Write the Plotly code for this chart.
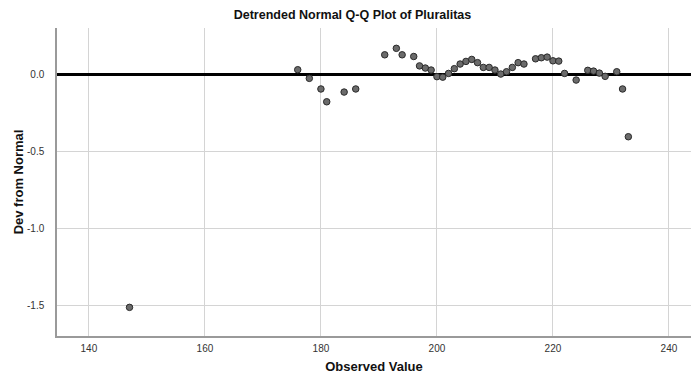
import plotly.graph_objects as go

observed = [147, 176, 178, 180, 181, 184, 186, 191, 193, 194, 196, 197, 198, 199,
            200, 201, 202, 203, 204, 205, 206, 207, 208, 209, 210, 211, 212, 213,
            214, 215, 217, 218, 219, 220, 221, 222, 224, 226, 227, 228, 229, 231,
            232, 233]
deviation = [-1.515, 0.028, -0.028, -0.097, -0.18, -0.117, -0.097, 0.125, 0.167, 0.125,
             0.114, 0.053, 0.039, 0.026, -0.017, -0.02, 0.004, 0.035, 0.065, 0.082,
             0.095, 0.074, 0.043, 0.043, 0.026, 0.0, 0.015, 0.043, 0.074, 0.065,
             0.099, 0.106, 0.11, 0.086, 0.084, 0.004, -0.039, 0.024, 0.019, 0.006,
             -0.015, 0.015, -0.097, -0.407]

x_ticks = [140, 160, 180, 200, 220, 240]
y_ticks = [0.0, -0.5, -1.0, -1.5]
y_tick_labels = ["0.0", "-0.5", "-1.0", "-1.5"]

font = "Arial, Liberation Sans, sans-serif"

fig = go.Figure()
fig.add_trace(go.Scatter(
    x=observed, y=deviation, mode="markers",
    marker=dict(size=6.5, color="#6b6b6b", line=dict(color="#2a2a2a", width=1)),
    hoverinfo="x+y", showlegend=False,
))

fig.update_layout(
    width=691, height=374,
    margin=dict(l=57, r=0, t=28, b=38),
    paper_bgcolor="white", plot_bgcolor="white",
    font=dict(family=font, color="#222"),
    title=dict(text="<b>Detrended Normal Q-Q Plot of Pluralitas</b>",
               x=352.5 / 691, xanchor="center", y=1 - 15 / 374, yanchor="middle",
               font=dict(size=12.5, color="#111", family=font)),
    xaxis=dict(range=[134.5, 243.8], tickvals=x_ticks, ticktext=[str(v) for v in x_ticks],
               showgrid=True, gridcolor="#d4d4d4", gridwidth=1,
               showline=True, linecolor="#9a9a9a", linewidth=1.5,
               ticks="", zeroline=False, ticklabelstandoff=2,
               tickfont=dict(size=10, color="#333"),
               title=dict(text="<b>Observed Value</b>", font=dict(size=13, color="#111"),
                          standoff=12)),
    yaxis=dict(range=[-1.701, 0.299], tickvals=y_ticks, ticktext=y_tick_labels,
               showgrid=True, gridcolor="#d4d4d4", gridwidth=1,
               showline=True, linecolor="#9a9a9a", linewidth=1.5,
               ticks="", zeroline=True, zerolinecolor="#000", zerolinewidth=3,
               ticklabelstandoff=9,
               tickfont=dict(size=10, color="#333"),
               title=dict(text="<b>Dev from Normal</b>", font=dict(size=13, color="#111"),
                          standoff=0)),
)

fig.update_yaxes(title_standoff=0)

fig.write_html("out.html")
